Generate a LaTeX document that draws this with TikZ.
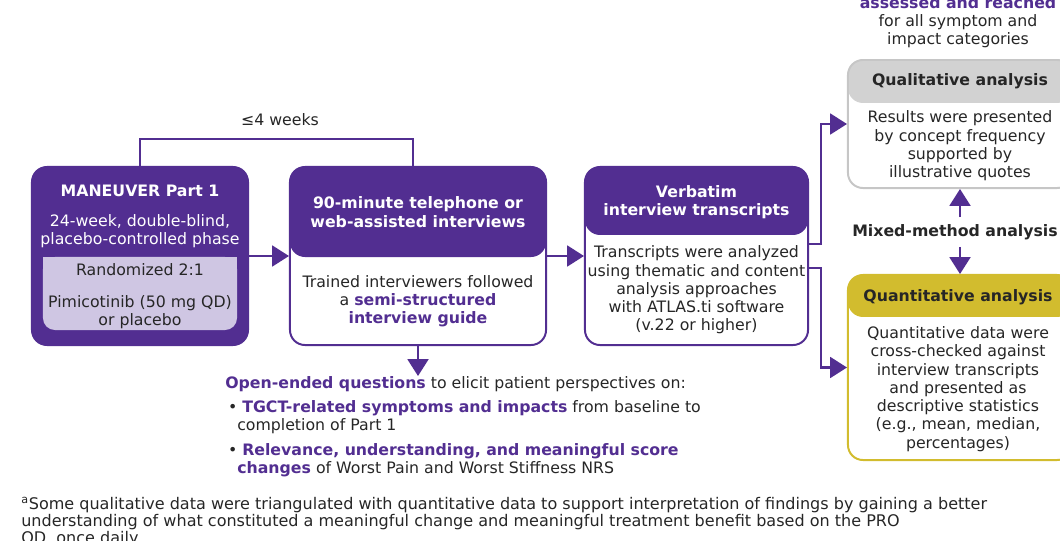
\documentclass[tikz,border=0pt]{standalone}
\usepackage{fontspec}
\setmainfont{DejaVu Sans}
\usetikzlibrary{arrows.meta}

\definecolor{maneuver}{HTML}{522E91}
\definecolor{lilac}{HTML}{CFC6E3}
\definecolor{inkgray}{HTML}{262626}
\definecolor{qualgray}{HTML}{D2D2D2}
\definecolor{qualedge}{HTML}{C6C6C6}
\definecolor{mustard}{HTML}{D2BC2E}

\newcommand{\bodysize}{\fontsize{11.2}{13}\selectfont}
\newcommand{\notesize}{\fontsize{11.4}{12.05}\selectfont}
\newcommand{\hl}[1]{\textcolor{maneuver}{\bfseries #1}}

\tikzset{
  panel/.style={draw=#1, fill=white, line width=1.4pt, rounded corners=0.375cm, inner sep=0pt},
  headfill/.style 2 args={path picture={\fill[#1] (path picture bounding box.north west) rectangle ([yshift=-#2]path picture bounding box.north east);}},
  body/.style={text=inkgray, align=center, font=\bodysize, inner sep=0pt},
  headtxt/.style={text=white, align=center, font=\bodysize\bfseries, inner sep=0pt},
  flow/.style={draw=maneuver, line width=1.6pt, -{Triangle[length=0.42cm,width=0.52cm]}},
  bracket/.style={draw=maneuver, line width=1.4pt}
}

\begin{document}
\begin{tikzpicture}[x=0.025cm, y=-0.025cm]
	\useasboundingbox (0,0) rectangle (1060,540);
	\clip (0,0) rectangle (1060,540);

	% study part and interviews
	\node[panel=maneuver, fill=maneuver, minimum width=5.4cm, minimum height=4.45cm] (part1) at (140,256) {};
	\node[fill=lilac, rounded corners=0.3cm, minimum width=4.85cm, minimum height=1.825cm, inner sep=0pt] (arm) at (140,293.5) {};
	\fill[lilac] (arm.north west) rectangle (arm.east);
	\node[headtxt] (part1title) at (140,191) {MANEUVER Part 1};
	\node[body, text=white] (phase) at (140,231) {24-week, double-blind,\\placebo-controlled phase};
	\node[body] (rand) at (140,270) {Randomized 2:1};
	\node[body] (drug) at (140,312) {Pimicotinib (50 mg QD)\\or placebo};

	\node[panel=maneuver, headfill={maneuver}{2.25cm}, minimum width=6.4cm, minimum height=4.45cm] (interview) at (418,256) {};
	\node[headtxt] (interviewhead) at (418,212) {90-minute telephone or\\web-assisted interviews};
	\node[body] (interviewbody) at (418,301) {Trained interviewers followed\\a \hl{semi-structured}\\\hl{interview guide}};

	\node[panel=maneuver, headfill={maneuver}{1.7cm}, minimum width=5.575cm, minimum height=4.45cm] (transcripts) at (696.5,256) {};
	\node[headtxt] (transcriptshead) at (696.5,202.5) {Verbatim\\interview transcripts};
	\node[body] (transcriptsbody) at (696.5,290) {Transcripts were analyzed\\using thematic and content\\analysis approaches\\with ATLAS.ti software\\(v.22 or higher)};

	% analysis
	\node[body] (saturation) at (958,22) {\hl{assessed and reached}\\for all symptom and\\impact categories};
	\node[panel=qualedge, headfill={qualgray}{1.075cm}, minimum width=5.6cm, minimum height=3.2cm] (qual) at (960,124) {};
	\node[headtxt, text=inkgray] (qualhead) at (960,81) {Qualitative analysis};
	\node[body] (qualbody) at (960,146) {Results were presented\\by concept frequency\\supported by\\illustrative quotes};

	\node[body, font=\bodysize\bfseries, inner sep=0.175cm] (mixed) at (955,232) {Mixed-method analysis};

	\node[panel=mustard, headfill={mustard}{1.05cm}, minimum width=5.6cm, minimum height=4.625cm] (quant) at (960,367.5) {};
	\node[headtxt, text=inkgray] (quanthead) at (958,297) {Quantitative analysis};
	\node[body] (quantbody) at (958,389) {Quantitative data were\\cross-checked against\\interview transcripts\\and presented as\\descriptive statistics\\(e.g., mean, median,\\percentages)};

	% interview guide
	\node[body, align=left, anchor=north west] (questions) at (225,376) {\hl{Open-ended questions} to elicit patient perspectives on:\\[0.15cm]
		\makebox[0.425cm][l]{\hspace{0.07cm}\textbullet}\hl{TGCT-related symptoms and impacts} from baseline to\\
		\hspace*{0.3cm}completion of Part 1\\[0.15cm]
		\makebox[0.425cm][l]{\hspace{0.07cm}\textbullet}\hl{Relevance, understanding, and meaningful score}\\
		\hspace*{0.3cm}\hl{changes} of Worst Pain and Worst Stiffness NRS};

	\node[body, align=left, anchor=north west, font=\notesize] (footnote) at (21,497) {\textsuperscript{a}Some qualitative data were triangulated with quantitative data to support interpretation of findings by gaining a better\\understanding of what constituted a meaningful change and meaningful treatment benefit based on the PRO\\QD, once daily};

	% connectors
	\node[body] (gap) at (280,120) {≤4 weeks};
	\draw[bracket] (part1.north) -- ++(0,-27) -| ([xshift=-0.125cm]interview.north);

	\draw[flow] (part1) -- (interview);
	\draw[flow] (interview) -- (transcripts);
	\draw[flow] (interview.south) -- (interview.south |- questions.north);
	\draw[flow] ([yshift=0.3cm]transcripts.east) -- ++(0.3cm,0) |- (qual.west);
	\draw[flow] ([yshift=-0.3cm]transcripts.east) -- ++(0.3cm,0) |- (quant.west);
	\draw[flow] (mixed.north -| qual.south) -- (qual.south);
	\draw[flow] (mixed.south -| quant.north) -- (quant.north);
\end{tikzpicture}
\end{document}
